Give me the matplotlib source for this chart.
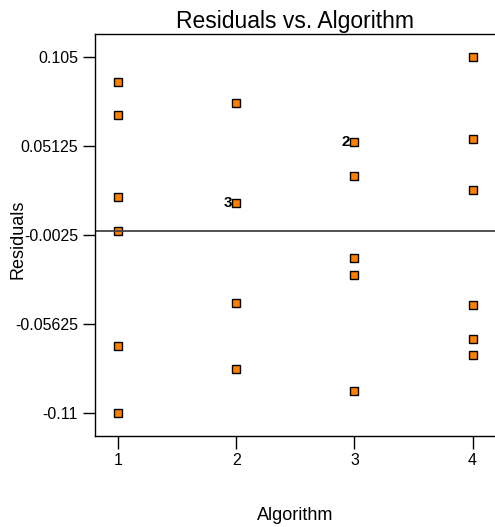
import matplotlib
matplotlib.use("Agg")
import matplotlib.pyplot as plt

plt.rcParams['font.family'] = ['Liberation Sans', 'DejaVu Sans']

# residuals per algorithm
alg_1 = [0.0900, 0.0697, 0.0204, 0.0000, -0.0698, -0.1099]
alg_2 = [0.0771, 0.0167, 0.0167, 0.0167, -0.0435, -0.0833]
alg_3 = [0.0536, 0.0536, 0.0332, -0.0167, -0.0266, -0.0968]
alg_4 = [0.1049, 0.0554, 0.0248, -0.0451, -0.0654, -0.0752]
groups = [alg_1, alg_2, alg_3, alg_4]
algorithms = [1, 2, 3, 4]

y_ticks = [0.105, 0.05125, -0.0025, -0.05625, -0.11]
y_tick_labels = ["0.105", "0.05125", "-0.0025", "-0.05625", "-0.11"]

fig = plt.figure(figsize=(4.95, 5.27), dpi=100)
ax = fig.add_axes([0.191, 0.1727, 0.809, 0.7628])

for alg, vals in zip(algorithms, groups):
    # draw each unique value once, label stacked duplicates with a count
    seen = {}
    for v in vals:
        seen[v] = seen.get(v, 0) + 1
    for v, n in seen.items():
        ax.plot(alg, v, marker='s', markersize=6.3, markerfacecolor='#ff8000',
                markeredgecolor='black', markeredgewidth=1.0, linestyle='none')
        if n > 1:
            ax.annotate(str(n), (alg, v), xytext=(-3, 0), textcoords='offset points',
                        ha='right', va='center', fontsize=11, fontweight='bold')

ax.axhline(0.0, color='#444444', linewidth=1.3)

ax.set_xlim(0.80, 4.19)
ax.set_ylim(-0.124, 0.1188)
ax.set_xticks(algorithms)
ax.set_yticks(y_ticks)
ax.set_yticklabels(y_tick_labels)
ax.tick_params(direction='out', length=9, width=1, labelsize=11.5, pad=3)

ax.spines['right'].set_visible(False)
for s in ['left', 'top', 'bottom']:
    ax.spines[s].set_linewidth(1.0)

ax.set_title("Residuals vs. Algorithm", fontsize=16.5, pad=4)
ax.set_xlabel("Algorithm", fontsize=13, va='center')
ax.set_ylabel("Residuals", fontsize=13, va='center')
ax.xaxis.set_label_coords(0.5, -0.197)
ax.yaxis.set_label_coords(-0.192, 0.49)

fig.savefig("out.png", dpi=100)
